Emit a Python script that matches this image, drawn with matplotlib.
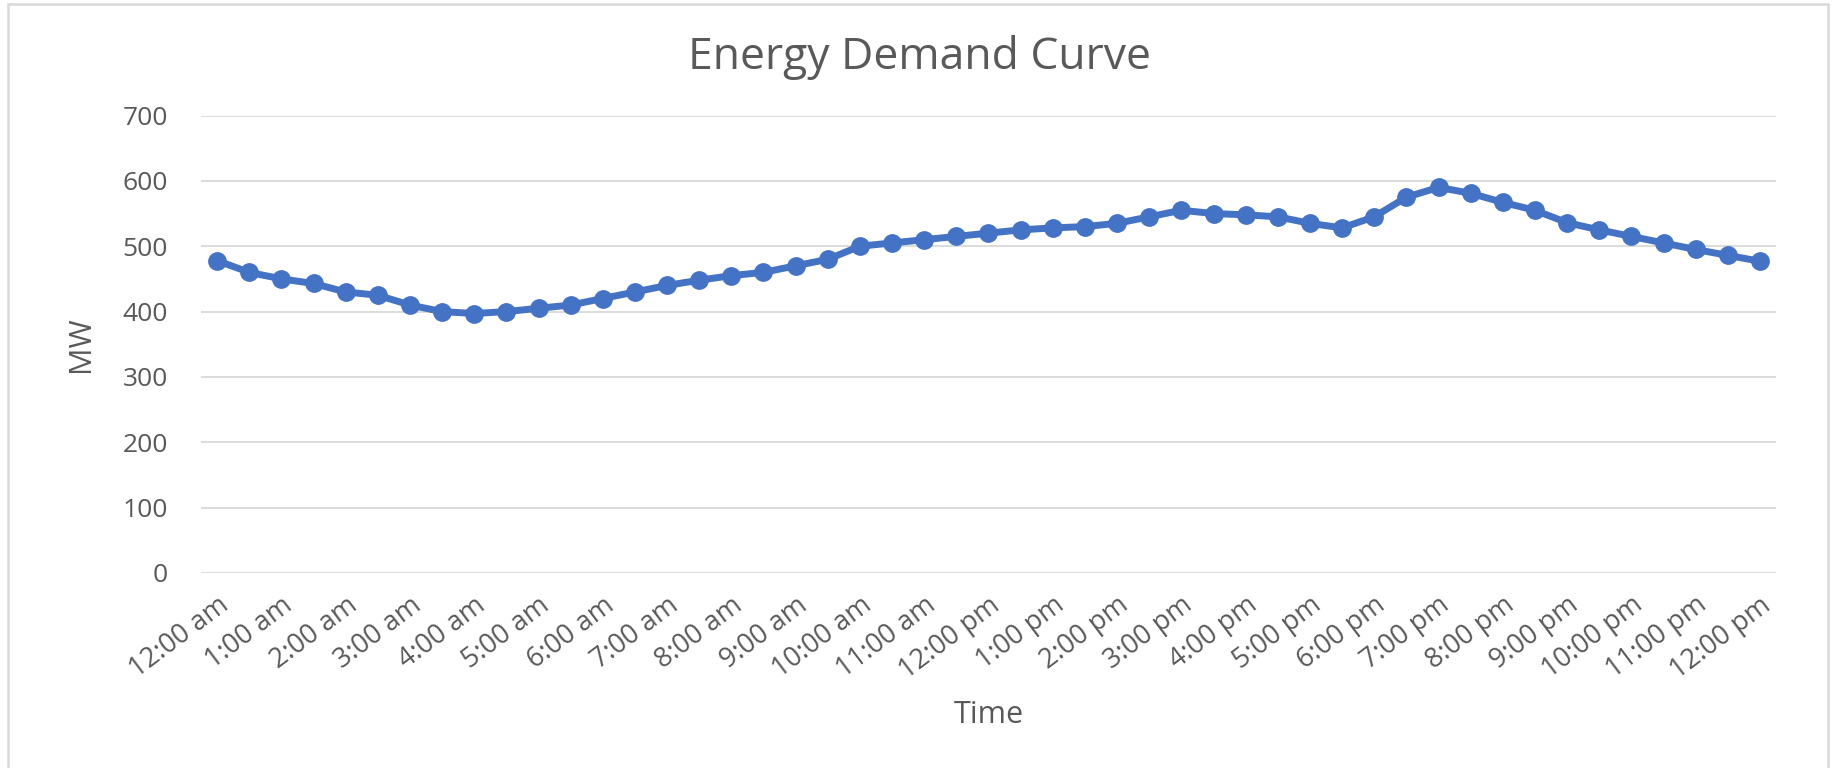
import matplotlib.pyplot as plt
from matplotlib.patches import Rectangle

# half-hourly demand, 12:00 am through 12:00 pm of the next day
demand_mw = [478, 460, 450, 443, 430, 425, 410, 400, 397, 400,
             405, 410, 420, 430, 440, 448, 455, 460, 470, 480,
             500, 505, 510, 515, 520, 525, 528, 530, 535, 545,
             555, 550, 548, 545, 535, 528, 545, 575, 590, 581,
             567, 555, 536, 525, 515, 505, 495, 486, 477]

hour_labels = ["12:00 am", "1:00 am", "2:00 am", "3:00 am", "4:00 am",
               "5:00 am", "6:00 am", "7:00 am", "8:00 am", "9:00 am",
               "10:00 am", "11:00 am", "12:00 pm", "1:00 pm", "2:00 pm",
               "3:00 pm", "4:00 pm", "5:00 pm", "6:00 pm", "7:00 pm",
               "8:00 pm", "9:00 pm", "10:00 pm", "11:00 pm", "12:00 pm"]

y_ticks = [0, 100, 200, 300, 400, 500, 600, 700]

plt.rcParams['font.family'] = ['Open Sans', 'DejaVu Sans']
text_color = "#595959"
grid_color = "#d9d9d9"
line_color = "#4472C4"

W, H = 1832, 768
fig = plt.figure(figsize=(W / 100, H / 100), dpi=100)
ax = fig.add_axes([201 / W, 1 - 573 / H, (1776 - 201) / W, (573 - 115.5) / H])

x = list(range(len(demand_mw)))
ax.plot(x, demand_mw, color=line_color, lw=5, marker="o", ms=12.5,
        solid_joinstyle="round", zorder=3)

ax.set_xlim(-0.5, len(demand_mw) - 0.5)
ax.set_ylim(0, 700)
ax.set_yticks(y_ticks)
ax.set_xticks(x[::2])
ax.set_xticklabels(hour_labels, rotation=37, ha="right", va="top",
                   rotation_mode="anchor", fontsize=19.5)

ax.yaxis.grid(True, color=grid_color, lw=1.3)
ax.set_axisbelow(True)
for s in ax.spines.values():
    s.set_visible(False)
ax.tick_params(axis="both", length=0, labelcolor=text_color)
ax.tick_params(axis="y", pad=24, labelsize=19)
ax.tick_params(axis="x", pad=13)

ax.set_xlabel("Time", fontsize=22, color=text_color)
ax.xaxis.set_label_coords(0.5, 1 - (700 - 115.5) / (573 - 115.5))
ax.set_ylabel("MW", fontsize=22, color=text_color)
ax.yaxis.set_label_coords((96 - 201) / (1776 - 201), 0.5)

fig.text(920 / W, 1 - 57 / H, "Energy Demand Curve", fontsize=32,
         color=text_color, ha="center", va="center")

# chart frame
fig.patches.append(Rectangle((8 / W, -0.01), (1828 - 8) / W, 1.01 - 4 / H,
                             transform=fig.transFigure, fill=False,
                             edgecolor=grid_color, lw=1.8))

fig.savefig("out.png", dpi=100, facecolor="white")
